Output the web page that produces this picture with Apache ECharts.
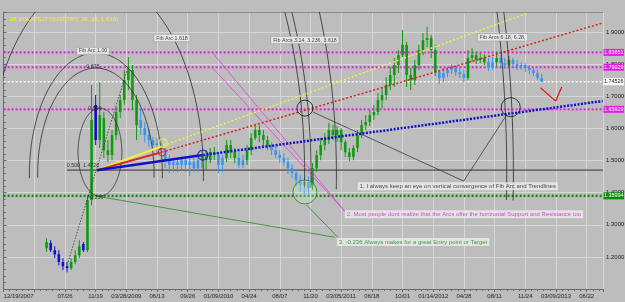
<!DOCTYPE html>
<html><head><meta charset="utf-8">
<script src="https://cdn.jsdelivr.net/npm/echarts@6/dist/echarts.min.js"></script>
<style>html,body{margin:0;padding:0;background:#bdbdbd}#c{width:625px;height:302px}</style>
</head><body><div id="c"></div><script>
// ---------- data ----------
const tickLabels = ['12/19/2007','','07/26','11/19','03/28/2009','06/13','09/26','01/09/2010','04/24','08/07','11/20','03/05/2011','06/18','10/01','01/14/2012','04/28','08/11','11/24','03/09/2013','06/22'];
const tickStep = 15;           // weeks between time labels
const firstBar = 21, barStep = 2; // bar positions in weeks
const opens = [1.227,1.243,1.221,1.208,1.184,1.171,1.165,1.184,1.205,1.240,
1.221,1.377,1.673,1.564,1.632,1.532,1.517,1.579,1.651,1.688,
1.750,1.782,1.688,1.626,1.601,1.579,1.564,1.548,1.554,1.532,
1.501,1.486,1.495,1.486,1.501,1.486,1.495,1.476,1.501,1.517,
1.501,1.526,1.517,1.486,1.508,1.548,1.526,1.508,1.486,1.501,
1.532,1.570,1.595,1.579,1.564,1.548,1.532,1.517,1.508,1.495,
1.476,1.461,1.439,1.423,1.433,1.423,1.476,1.517,1.548,1.564,
1.595,1.579,1.595,1.557,1.526,1.511,1.539,1.579,1.610,1.620,
1.641,1.651,1.688,1.704,1.735,1.766,1.797,1.828,1.860,1.766,
1.750,1.797,1.844,1.875,1.881,1.844,1.775,1.757,1.772,1.782,
1.788,1.775,1.769,1.757,1.819,1.828,1.813,1.819,1.806,1.791,
1.806,1.819,1.803,1.797,1.813,1.800,1.794,1.797,1.788,1.782,
1.772,1.757];
const closes = [1.246,1.221,1.208,1.184,1.171,1.165,1.184,1.205,1.233,1.221,
1.377,1.626,1.564,1.641,1.532,1.517,1.579,1.651,1.688,1.750,
1.782,1.688,1.610,1.601,1.579,1.564,1.548,1.554,1.532,1.501,
1.486,1.495,1.486,1.501,1.486,1.495,1.476,1.501,1.517,1.501,
1.526,1.517,1.486,1.508,1.548,1.526,1.508,1.486,1.501,1.532,
1.570,1.595,1.579,1.564,1.548,1.532,1.517,1.508,1.495,1.476,
1.461,1.439,1.423,1.433,1.414,1.476,1.517,1.548,1.564,1.595,
1.579,1.595,1.557,1.526,1.511,1.539,1.579,1.610,1.620,1.641,
1.651,1.688,1.704,1.735,1.766,1.797,1.828,1.860,1.766,1.750,
1.797,1.844,1.875,1.881,1.844,1.775,1.757,1.772,1.782,1.788,
1.775,1.769,1.757,1.819,1.828,1.813,1.819,1.806,1.791,1.806,
1.819,1.803,1.797,1.813,1.800,1.794,1.797,1.788,1.782,1.772,
1.757,1.745];
const lows = [1.215,1.215,1.196,1.174,1.159,1.152,1.159,1.177,1.196,1.215,
1.215,1.361,1.548,1.539,1.508,1.495,1.501,1.564,1.632,1.673,
1.719,1.657,1.564,1.579,1.557,1.542,1.532,1.526,1.517,1.476,
1.461,1.464,1.464,1.470,1.464,1.451,1.464,1.464,1.476,1.470,
1.492,1.501,1.461,1.464,1.495,1.508,1.492,1.476,1.476,1.486,
1.517,1.564,1.557,1.545,1.532,1.517,1.508,1.492,1.483,1.458,
1.445,1.420,1.402,1.395,1.395,1.408,1.464,1.501,1.532,1.551,
1.564,1.557,1.532,1.511,1.498,1.501,1.526,1.570,1.595,1.607,
1.626,1.641,1.663,1.688,1.719,1.729,1.772,1.822,1.729,1.719,
1.735,1.782,1.828,1.853,1.819,1.763,1.738,1.744,1.760,1.769,
1.763,1.757,1.744,1.750,1.806,1.800,1.803,1.797,1.778,1.782,
1.794,1.791,1.785,1.791,1.788,1.782,1.782,1.775,1.769,1.763,
1.750,1.744];
const highs = [1.258,1.252,1.233,1.221,1.196,1.184,1.196,1.221,1.252,1.246,
1.392,1.735,1.704,1.744,1.651,1.564,1.595,1.666,1.704,1.782,
1.822,1.797,1.704,1.663,1.620,1.601,1.573,1.570,1.573,1.539,
1.517,1.508,1.508,1.511,1.514,1.511,1.508,1.517,1.532,1.532,
1.539,1.542,1.526,1.517,1.564,1.564,1.539,1.526,1.517,1.548,
1.585,1.610,1.610,1.595,1.576,1.557,1.545,1.532,1.523,1.508,
1.489,1.470,1.455,1.445,1.451,1.492,1.532,1.570,1.585,1.617,
1.610,1.607,1.601,1.564,1.539,1.548,1.595,1.626,1.641,1.657,
1.673,1.710,1.726,1.760,1.791,1.819,1.844,1.906,1.869,1.788,
1.813,1.860,1.897,1.916,1.891,1.860,1.782,1.788,1.791,1.800,
1.797,1.794,1.782,1.844,1.850,1.838,1.835,1.831,1.819,1.822,
1.838,1.828,1.819,1.825,1.819,1.813,1.806,1.803,1.797,1.791,
1.782,1.769];
// trend colour code per bar: g = up-trend, b = down-trend, n = early down bars
const trend = ('g nnnnn ggg n gg n gggggggggg bbbbbbbbbbbbbbb gggg bb ggg bb gggggg bbbbbbbbbb ' +
  'ggggggggggggggggggggggggggggggg bbbbbbb ggggg bb g bb g bbbbbbbb').replace(/ /g,'').split('');

// horizontal price levels
const levelValues = [1.83651, 1.79029, 1.74526, 1.65929, 1.38994];
const levelKinds  = ['mag','mag','bid','mag','green'];
const halfLevel = 1.47;

// Fib arc construction (in weeks / price)
const arcCenter = [45.1, 1.458];
const arcUnit = [32.5, 0.377];
const arcLevels = [0.875, 1, 1.618, 3.14, 3.236, 3.618, 6.18, 6.28];
const innerArcCenter = [47.1, 1.526];
const innerArcRadius = [10.7, 0.137];
const fibBase = [[31.5, 1.184], [60.8, 1.791]];

// trend lines from the fib anchor
const anchor = [45.6, 1.470];
const yellowPts = [anchor, [76.4, 1.542], [256.2, 1.959]];
const redPts    = [anchor, [77.4, 1.526], [292.8, 1.928]];
const bluePts   = [anchor, [97.4, 1.517], [292.8, 1.685]];

// markers
const circlePts = [[77.9,1.554],[77.4,1.526],[97.4,1.517],[147.3,1.663],[247.9,1.666],[147.3,1.402]];
const circleKinds = ['yellow','red','blue','black','black2','green'];

// annotation leader lines
const leader1 = [[151.2,1.651],[224.9,1.436],[245.9,1.642]];
const leader2a = [[101.8,1.838],[166.8,1.342]];
const leader2b = [[101.8,1.791],[166.8,1.342]];
const leader3a = [[45.6,1.389],[161.9,1.261]];
const leader3b = [[148.2,1.361],[163.4,1.261]];
const arrowPts = [[262.5,1.726],[269.9,1.685],[272.8,1.729]];

// texts
const fibLabelText = ['Fib Arc 1.00','0.875','0.500','0.500  1.4726','-0.236','Fib Arc 1.618','Fib Arcs 3.14, 3.236, 3.618','Fib Arcs 6.18, 6.28,'];
const fibLabelPos = [[43.7,1.841],[43.7,1.791],[44.6,1.663],[38.8,1.483],[45.1,1.386],[82.3,1.881],[147.3,1.875],[243.9,1.884]];
const fibLabelBox = [true,false,false,false,false,true,true,true];
const noteText = ['1. I always keep an eye on vertical convergence of Fib Arc and Trendlines',
  '2. Most people dont realize that the Arcs offer the horizontal Support and Resistance too',
  '3. -0.236 Always makes for a great Entry point or Target'];
const notePos = [[173.1,1.420],[166.8,1.333],[162.9,1.246]];
const titleText = '28 VOLATILITY(USDTRY, 26, 26, 1.618)';

// ---------- chart ----------
const FONT = '"Liberation Sans", Arial, sans-serif';
const COL = {g:'#0f9a0f', b:'#3a94ee', n:'#1010c8'};
const trendCodes = ['g','b','n'];
const candleData = closes.map((c,k)=>[firstBar+barStep*k, opens[k], c, lows[k], highs[k], trendCodes.indexOf(trend[k])]);

function renderCandle(params, api){
  const x = api.value(0);
  const o = api.coord([x, api.value(1)]);
  const c = api.coord([x, api.value(2)]);
  const l = api.coord([x, api.value(3)]);
  const h = api.coord([x, api.value(4)]);
  const col = COL[trendCodes[api.value(5)]];
  const w = 2.6;
  const top = Math.min(o[1], c[1]), bot = Math.max(o[1], c[1]);
  return {type:'group', children:[
    {type:'line', shape:{x1:h[0], y1:h[1], x2:l[0], y2:l[1]}, style:{stroke:col, lineWidth:1}},
    {type:'rect', shape:{x:o[0]-w/2, y:top, width:w, height:Math.max(bot-top,1)}, style:{fill:col}}
  ]};
}
function ellipsePts(c, rx, ry, a0, a1){
  const pts=[];
  for(let a=a0;a<=a1;a+=1){const t=a*Math.PI/180; pts.push([c[0]+rx*Math.cos(t), c[1]-ry*Math.sin(t)]);}
  return pts;
}
function renderArc(params, api){
  const c = api.coord(arcCenter);
  const lvl = api.value(0);
  const rx = api.size([arcUnit[0]*lvl, 0])[0];
  const ry = api.size([0, arcUnit[1]*lvl])[1];
  return {type:'polyline', shape:{points:ellipsePts(c,rx,ry,-2,182)}, style:{stroke:'#2a2a2a', fill:null, lineWidth:0.8}};
}
function renderInner(params, api){
  const c = api.coord(innerArcCenter);
  const rx = api.size([innerArcRadius[0],0])[0];
  const ry = api.size([0,innerArcRadius[1]])[1];
  return {type:'polyline', shape:{points:ellipsePts(c,rx,ry,0,360)}, style:{stroke:'#2a2a2a', fill:null, lineWidth:0.8}};
}

function lineSeries(pts, color, width, type, z){
  return {type:'line', data:pts, symbol:'none', silent:true, lineStyle:{color, width, type}, z:z||4, clip:true};
}
const levelStyle = {
  mag:{color:'#e020e0', width:2, dash:[2,2], bg:'#e020e0', fg:'#ffffff'},
  bid:{color:'#ffffff', width:1.5, dash:[2,2], bg:'#ffffff', fg:'#111111'},
  green:{color:'#0a8a0a', width:2.5, dash:[2,2], bg:'#0a8a0a', fg:'#ffffff'}
};
const levelSeries = levelValues.map((v,i)=>{
  const s = levelStyle[levelKinds[i]];
  return {type:'line', data:[[0,v],[293,v]], symbol:'none', silent:true, z:3,
    lineStyle:{color:s.color, width:s.width, type:s.dash},
    endLabel:{show:true, formatter:v.toFixed(5), backgroundColor:s.bg, color:s.fg, fontSize:5.4, fontFamily:FONT, padding:[1,0.5], distance:0.5}};
});
const circleStyle = {
  yellow:{c:'#f0f040', d:9, f:'rgba(255,255,150,0.25)', w:1.2},
  red:{c:'#d02020', d:7, f:'rgba(255,255,255,0.2)', w:1.2},
  blue:{c:'#1010c8', d:10, f:'rgba(255,255,255,0.1)', w:1.2},
  black:{c:'#111111', d:16, f:'rgba(255,255,255,0.05)', w:1},
  black2:{c:'#111111', d:19, f:'rgba(255,255,255,0.05)', w:1},
  green:{c:'#1a8a1a', d:24, f:'rgba(200,240,200,0.35)', w:1}
};
const circleData = circlePts.map((p,i)=>{const s=circleStyle[circleKinds[i]]; return {value:p, symbolSize:s.d, itemStyle:{color:s.f, borderColor:s.c, borderWidth:s.w}};});

const fibLabelData = fibLabelPos.map((p,i)=>({value:p, label:{show:true, position:'inside', formatter:fibLabelText[i],
  fontSize:5.3, fontFamily:FONT, color:'#111',
  backgroundColor: fibLabelBox[i] ? '#f2f2f2' : 'transparent', borderColor: fibLabelBox[i] ? '#888':'transparent', borderWidth: fibLabelBox[i]?0.5:0, padding:[1,2]}}));
const noteColors = ['#222222','#d020d0','#1a8a1a'];
const noteData = notePos.map((p,i)=>({value:p, label:{show:true, position:'right', distance:0, formatter:noteText[i],
  fontSize:6, fontFamily:FONT, color:noteColors[i], backgroundColor:'#ececec', padding:[1,2]}}));

const option = {
  animation:false,
  backgroundColor:'#bdbdbd',
  title:{text:titleText, left:5, top:11, textStyle:{color:'#f2f23a', fontSize:6, fontWeight:'normal', fontFamily:FONT}},
  grid:{left:3.6, right:22, top:12, bottom:13, containLabel:false, outerBoundsMode:'none'},
  xAxis:[{type:'value', min:0, max:293, interval:tickStep,
    axisLine:{show:true, lineStyle:{color:'#6a6a6a'}},
    axisTick:{show:true, length:3, lineStyle:{color:'#6a6a6a'}},
    minorTick:{show:true, splitNumber:5, length:2, lineStyle:{color:'#6a6a6a'}},
    splitLine:{show:true, lineStyle:{color:'#d6d6d6', width:1}},
    axisLabel:{color:'#1e1e1e', fontSize:6, fontFamily:FONT, margin:4, showMaxLabel:false, alignMinLabel:'left',
      formatter:v=>{const j=Math.round(v/tickStep); return (Math.abs(v-j*tickStep)<0.01 && tickLabels[j]!==undefined)?tickLabels[j]:'';}}},
    {type:'value', min:0, max:293, position:'top', axisLine:{show:true, onZero:false, lineStyle:{color:'#8a8a8a'}}, axisTick:{show:false}, axisLabel:{show:false}, splitLine:{show:false}}],
  yAxis:{type:'value', position:'right', min:1.1, max:1.9623, interval:0.1,
    axisLine:{show:true, lineStyle:{color:'#6a6a6a'}},
    axisTick:{show:true, length:3, lineStyle:{color:'#6a6a6a'}},
    minorTick:{show:true, splitNumber:5, length:2, lineStyle:{color:'#6a6a6a'}},
    splitLine:{show:true, lineStyle:{color:'#d6d6d6', width:1}},
    axisLabel:{color:'#1e1e1e', fontSize:6, fontFamily:FONT, margin:3, showMaxLabel:false, showMinLabel:false,
      formatter:v=>v.toFixed(4)}},
  series:[
    lineSeries([[31,halfLevel],[293,halfLevel]], '#6e6e6e', 1.6, 'solid', 2),
    ...levelSeries,
    {type:'custom', renderItem:renderCandle, data:candleData, encode:{x:0,y:[1,2,3,4]}, z:5, silent:true},
    {type:'custom', renderItem:renderArc, data:arcLevels.map(v=>[v]), clip:true, z:6, silent:true},
    {type:'custom', renderItem:renderInner, data:[[0]], clip:true, z:6, silent:true},
    lineSeries(fibBase, '#333333', 0.8, [1.5,1.5], 6),
    lineSeries(yellowPts.slice(0,2), '#f0f040', 2, 'solid', 7),
    lineSeries(yellowPts.slice(1), '#f0f040', 1.5, [2,2], 7),
    lineSeries(redPts.slice(0,2), '#d82020', 2, 'solid', 7),
    lineSeries(redPts.slice(1), '#d82020', 1.5, [2,2], 7),
    lineSeries(bluePts.slice(0,2), '#1010c8', 2.5, 'solid', 7),
    lineSeries(bluePts.slice(1), '#1010c8', 2.5, [2,1.5], 7),
    lineSeries(leader1, '#3a3a3a', 0.8, 'solid', 6),
    lineSeries(leader2a, '#e040e0', 0.8, 'solid', 6),
    lineSeries(leader2b, '#e040e0', 0.8, 'solid', 6),
    lineSeries(leader3a, '#2a8a2a', 0.8, 'solid', 6),
    lineSeries(leader3b, '#2a8a2a', 0.8, 'solid', 6),
    lineSeries(arrowPts, '#e01010', 1.2, 'solid', 8),
    {type:'scatter', data:circleData, symbol:'circle', silent:true, z:8},
    {type:'scatter', data:fibLabelData, symbolSize:0, silent:true, z:9},
    {type:'scatter', data:noteData, symbolSize:0, silent:true, z:9}
  ]
};
const chart = echarts.init(document.getElementById('c'));
chart.setOption(option);
</script></body></html>
